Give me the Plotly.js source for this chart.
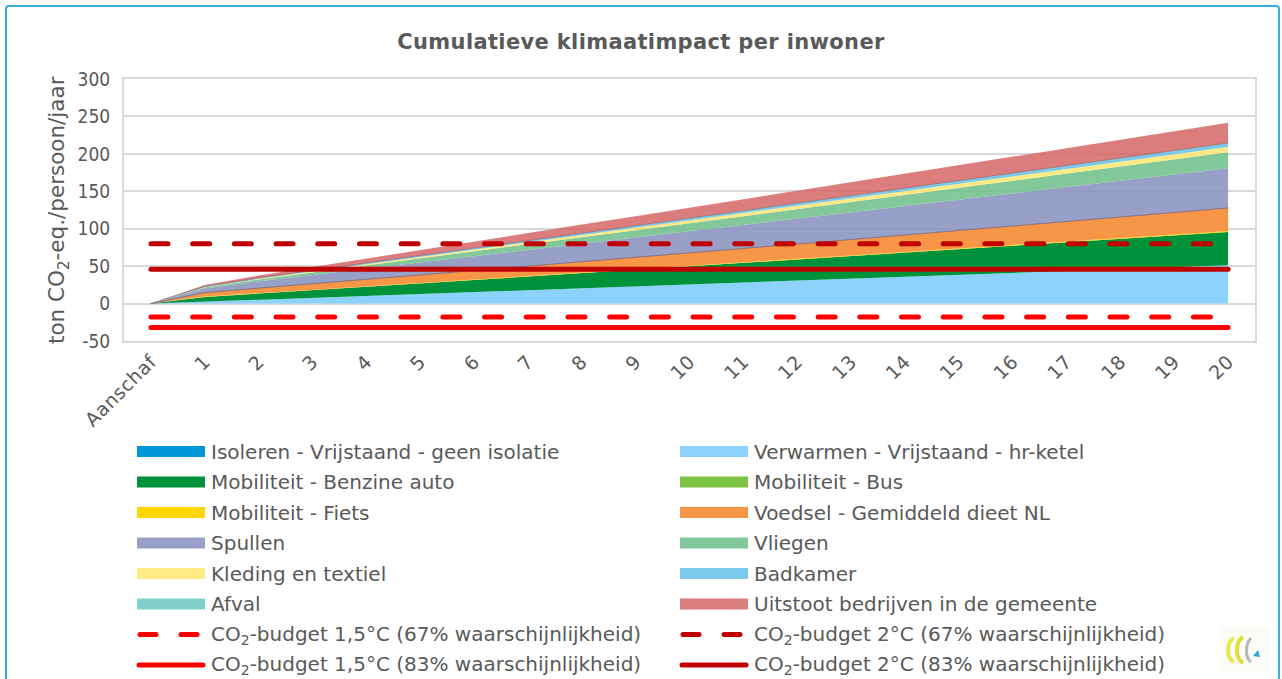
<!DOCTYPE html>
<html>
<head>
<meta charset="utf-8">
<script src="https://cdn.plot.ly/plotly-3.0.1.min.js"></script>
<style>
  html, body { margin: 0; padding: 0; background: #fff; }
  #wrap { position: relative; width: 1282px; height: 679px; overflow: hidden; }
  #chart { position: absolute; left: 0; top: 0; width: 1282px; height: 679px; }
  #frame { position: absolute; left: 5px; top: 5px; width: 1271px; height: 700px;
           border: 2px solid #3AA9DE; border-radius: 4px; pointer-events: none; }
  #logo { position: absolute; left: 1220px; top: 626px; width: 50px; height: 46px; pointer-events: none; }
  #chart .gtitle { letter-spacing: 0.35px; }
  #chart .xtick text { letter-spacing: 0.5px; }
  #chart .scatterlayer .js-line { stroke-linecap: round; }
  #chart .shapelayer path { stroke-linecap: round; }
</style>
</head>
<body>
<div id="wrap"><div id="chart"></div><div id="frame"></div>
<svg id="logo" viewBox="0 0 50 46">
  <rect x="0" y="0" width="50" height="46" fill="#FBFBF7"/>
  <path d="M14 12 C6 16 6 32 14 36" stroke="#E8E84A" stroke-width="4" fill="none"/>
  <path d="M23 11 C15 16 15 32 23 37" stroke="#DEDE3C" stroke-width="4" fill="none"/>
  <path d="M31 12 C25 18 25 32 31 36" stroke="#B8B8B8" stroke-width="3" fill="none"/>
  <path d="M33 30 L38 24 L40 31 Z" fill="#2FA8D8"/>
</svg>
</div>
<script>
// ---- data ----
const categories = ['Aanschaf','1','2','3','4','5','6','7','8','9','10','11','12','13','14','15','16','17','18','19','20'];
const isoleren  = [0,0,0,0,0,0,0,0,0,0,0,0,0,0,0,0,0,0,0,0,0];
const verwarmen = [0,2.5,5.0,7.5,10.0,12.5,15.0,17.5,20.0,22.5,25.0,27.6,30.2,32.8,35.5,38.2,40.9,43.5,46.1,48.7,51.3];
const benzine   = [0,6.3,8.3,10.3,12.3,14.3,16.3,18.3,20.3,22.3,24.3,26.3,28.3,30.3,32.3,34.3,36.3,38.4,40.4,42.4,44.4];
const bus       = [0,0,0,0,0,0,0,0,0,0,0,0,0,0,0,0,0,0,0,0,0];
const fiets     = [0,0.5,0.6,0.6,0.7,0.7,0.8,0.8,0.9,0.9,1.0,1.0,1.0,1.1,1.1,1.2,1.2,1.3,1.3,1.4,1.4];
const voedsel   = [0,5.3,6.7,8.0,9.3,10.7,12.0,13.3,14.6,16.0,17.3,18.6,20.0,21.3,22.6,24.0,25.3,26.6,28.0,29.3,30.6];
const spullen   = [0,5.5,9.3,12.0,14.6,17.0,19.4,21.8,24.2,26.6,29.0,31.4,33.8,36.2,38.6,41.0,43.4,45.8,48.2,50.6,53.0];
const vliegen   = [0,1.3,2.4,3.4,4.5,5.5,6.6,7.6,8.7,9.7,10.8,11.8,12.9,13.9,15.0,16.0,17.1,18.1,19.2,20.2,21.3];
const kleding   = [0,0.4,0.7,1.1,1.4,1.8,2.1,2.5,2.8,3.2,3.5,3.9,4.2,4.6,4.9,5.3,5.6,6.0,6.3,6.7,7.0];
const badkamer  = [0,0.9,1.1,1.3,1.5,1.7,1.9,2.1,2.3,2.5,2.8,3.0,3.2,3.4,3.6,3.8,4.0,4.2,4.4,4.6,4.8];
const afval     = [0,0.1,0.1,0.1,0.2,0.2,0.2,0.3,0.3,0.3,0.3,0.4,0.4,0.4,0.4,0.5,0.5,0.5,0.5,0.6,0.6];
const uitstoot  = [0,2.0,3.2,4.6,5.9,7.3,8.6,10.0,11.4,12.8,14.2,15.5,16.8,18.1,19.4,20.7,22.0,23.3,24.6,25.9,27.2];
const budget15_67 = -18;
const budget2_67  = 80;
const budget15_83 = -32;
const budget2_83  = 46;
const yTicks = [-50,0,50,100,150,200,250,300];

// ---- series definitions ----
const areaSeries = [
  {name:'Isoleren - Vrijstaand - geen isolatie', y:isoleren,  fill:'#0097D8', legend:'#0097D8'},
  {name:'Verwarmen - Vrijstaand - hr-ketel',     y:verwarmen, fill:'#8BD2FC', legend:'#8BD2FC'},
  {name:'Mobiliteit - Benzine auto',             y:benzine,   fill:'#00923A', legend:'#00923A'},
  {name:'Mobiliteit - Bus',                      y:bus,       fill:'#7DC242', legend:'#7DC242'},
  {name:'Mobiliteit - Fiets',                    y:fiets,     fill:'#FFD700', legend:'#FFD700'},
  {name:'Voedsel - Gemiddeld dieet NL',          y:voedsel,   fill:'#F79646', legend:'#F79646', edge:'rgba(120,90,110,0.75)'},
  {name:'Spullen',                               y:spullen,   fill:'rgba(134,143,190,0.85)', legend:'#98A0C8'},
  {name:'Vliegen',                               y:vliegen,   fill:'rgba(108,190,136,0.85)', legend:'#82C89A'},
  {name:'Kleding en textiel',                    y:kleding,   fill:'rgba(255,230,112,0.85)', legend:'#FFEA85'},
  {name:'Badkamer',                              y:badkamer,  fill:'rgba(101,191,233,0.85)', legend:'#7CC9EC'},
  {name:'Afval',                                 y:afval,     fill:'rgba(105,199,194,0.85)', legend:'#80CFCB', edge:'rgba(110,90,100,0.55)'},
  {name:'Uitstoot bedrijven in de gemeente',     y:uitstoot,  fill:'rgba(214,102,102,0.85)', legend:'#DC7D7D'}
];
const lineSeries = [
  {name:'CO<sub>2</sub>-budget 1,5°C (67% waarschijnlijkheid)', v:budget15_67, color:'#FF0000', dash:true},
  {name:'CO<sub>2</sub>-budget 2°C (67% waarschijnlijkheid)',   v:budget2_67,  color:'#C00000', dash:true},
  {name:'CO<sub>2</sub>-budget 1,5°C (83% waarschijnlijkheid)', v:budget15_83, color:'#FF0000', dash:false},
  {name:'CO<sub>2</sub>-budget 2°C (83% waarschijnlijkheid)',   v:budget2_83,  color:'#C00000', dash:false}
];

const FONT = '"DejaVu Sans", Tahoma, sans-serif';
const FONT_C = '"DejaVu Sans Condensed", "DejaVu Sans", Tahoma, sans-serif';
const TXT = '#595959';

const traces = [];
areaSeries.forEach((s, i) => {
  traces.push({
    type:'scatter', mode:'lines', x:categories, y:s.y, name:s.name,
    stackgroup:'one', fill: i === 0 ? 'tozeroy' : 'tonexty', fillcolor:s.fill,
    line:{width: s.edge ? 1 : 0, color: s.edge || s.fill, shape:'linear'},
    showlegend:false, hoverinfo:'skip'
  });
});
lineSeries.forEach(s => {
  traces.push({
    type:'scatter', mode:'lines', x:categories, y:categories.map(() => s.v), name:s.name,
    line:{width:5, color:s.color, dash: s.dash ? '17px,24.7px' : 'solid'},
    showlegend:false, hoverinfo:'skip'
  });
});

// ---- plot geometry (pixels) ----
const W = 1282, H = 679;
const mL = 124, mR = 27, mT = 79, mB = 338;
const pw = W - mL - mR, ph = H - mT - mB;
const px2x = px => (px - mL) / pw;
const py2y = py => (H - mB - py) / ph;

// ---- custom two-column legend ----
const legendItems = areaSeries.map(s => ({name:s.name, kind:'box', color:s.legend}))
  .concat(lineSeries.map(s => ({name:s.name, kind: s.dash ? 'dash' : 'line', color:s.color})));
const shapes = [];
const annotations = [];
const colX = [137, 680];
const row0 = 451.5, rowStep = 30.5;
legendItems.forEach((it, i) => {
  const col = i % 2, row = Math.floor(i / 2);
  const x0 = colX[col], x1 = x0 + 68, yc = row0 + row * rowStep;
  if (it.kind === 'box') {
    shapes.push({type:'rect', xref:'paper', yref:'paper', x0:px2x(x0), x1:px2x(x1),
      y0:py2y(yc - 5.5), y1:py2y(yc + 5.5), fillcolor:it.color, line:{width:0}});
  } else if (it.kind === 'line') {
    shapes.push({type:'line', xref:'paper', yref:'paper', x0:px2x(x0 + 2), x1:px2x(x1 - 2),
      y0:py2y(yc), y1:py2y(yc), line:{color:it.color, width:5}});
  } else {
    [[x0 + 3, x0 + 19], [x0 + 44, x0 + 60]].forEach(seg => {
      shapes.push({type:'line', xref:'paper', yref:'paper', x0:px2x(seg[0]), x1:px2x(seg[1]),
        y0:py2y(yc), y1:py2y(yc), line:{color:it.color, width:5}});
    });
  }
  annotations.push({xref:'paper', yref:'paper', x:px2x(x1 + 4), y:py2y(yc), xanchor:'left', yanchor:'middle',
    text:it.name, showarrow:false, font:{family:FONT, size:20, color:TXT}});
});

// y axis title as rotated text
annotations.push({xref:'paper', yref:'paper', x:px2x(58), y:0.5, xanchor:'center', yanchor:'middle',
  textangle:-90, showarrow:false, text:'ton CO<sub>2</sub>-eq./persoon/jaar',
  font:{family:FONT, size:21.5, color:TXT}});

const layout = {
  width:W, height:H,
  margin:{l:mL, r:mR, t:mT, b:mB, pad:0},
  paper_bgcolor:'rgba(0,0,0,0)', plot_bgcolor:'#ffffff',
  font:{family:FONT, color:TXT},
  title:{text:'<b>Cumulatieve klimaatimpact per inwoner</b>', x:0.5, xref:'container', xanchor:'center',
         y:1 - 42/H, yref:'container', yanchor:'middle', font:{family:FONT, size:21, color:TXT}},
  showlegend:false,
  xaxis:{type:'category', range:[-0.5, 20.5], tickangle:-45, tickfont:{family:FONT, size:19, color:TXT},
         showgrid:false, showline:true, mirror:true, linecolor:'#D9D9D9', linewidth:2,
         ticks:'', fixedrange:true, automargin:false},
  yaxis:{range:[-50, 300], tickvals:yTicks, ticktext:yTicks.map(String),
         tickfont:{family:FONT_C, size:19, color:TXT}, showgrid:true, gridcolor:'#D9D9D9', gridwidth:2,
         zeroline:false, showline:true, mirror:true, linecolor:'#D9D9D9', linewidth:2,
         ticks:'', ticklabelstandoff:8, fixedrange:true, automargin:false},
  shapes:shapes, annotations:annotations, hovermode:false
};

Plotly.newPlot('chart', traces, layout, {displayModeBar:false, staticPlot:true});
</script>
</body>
</html>
